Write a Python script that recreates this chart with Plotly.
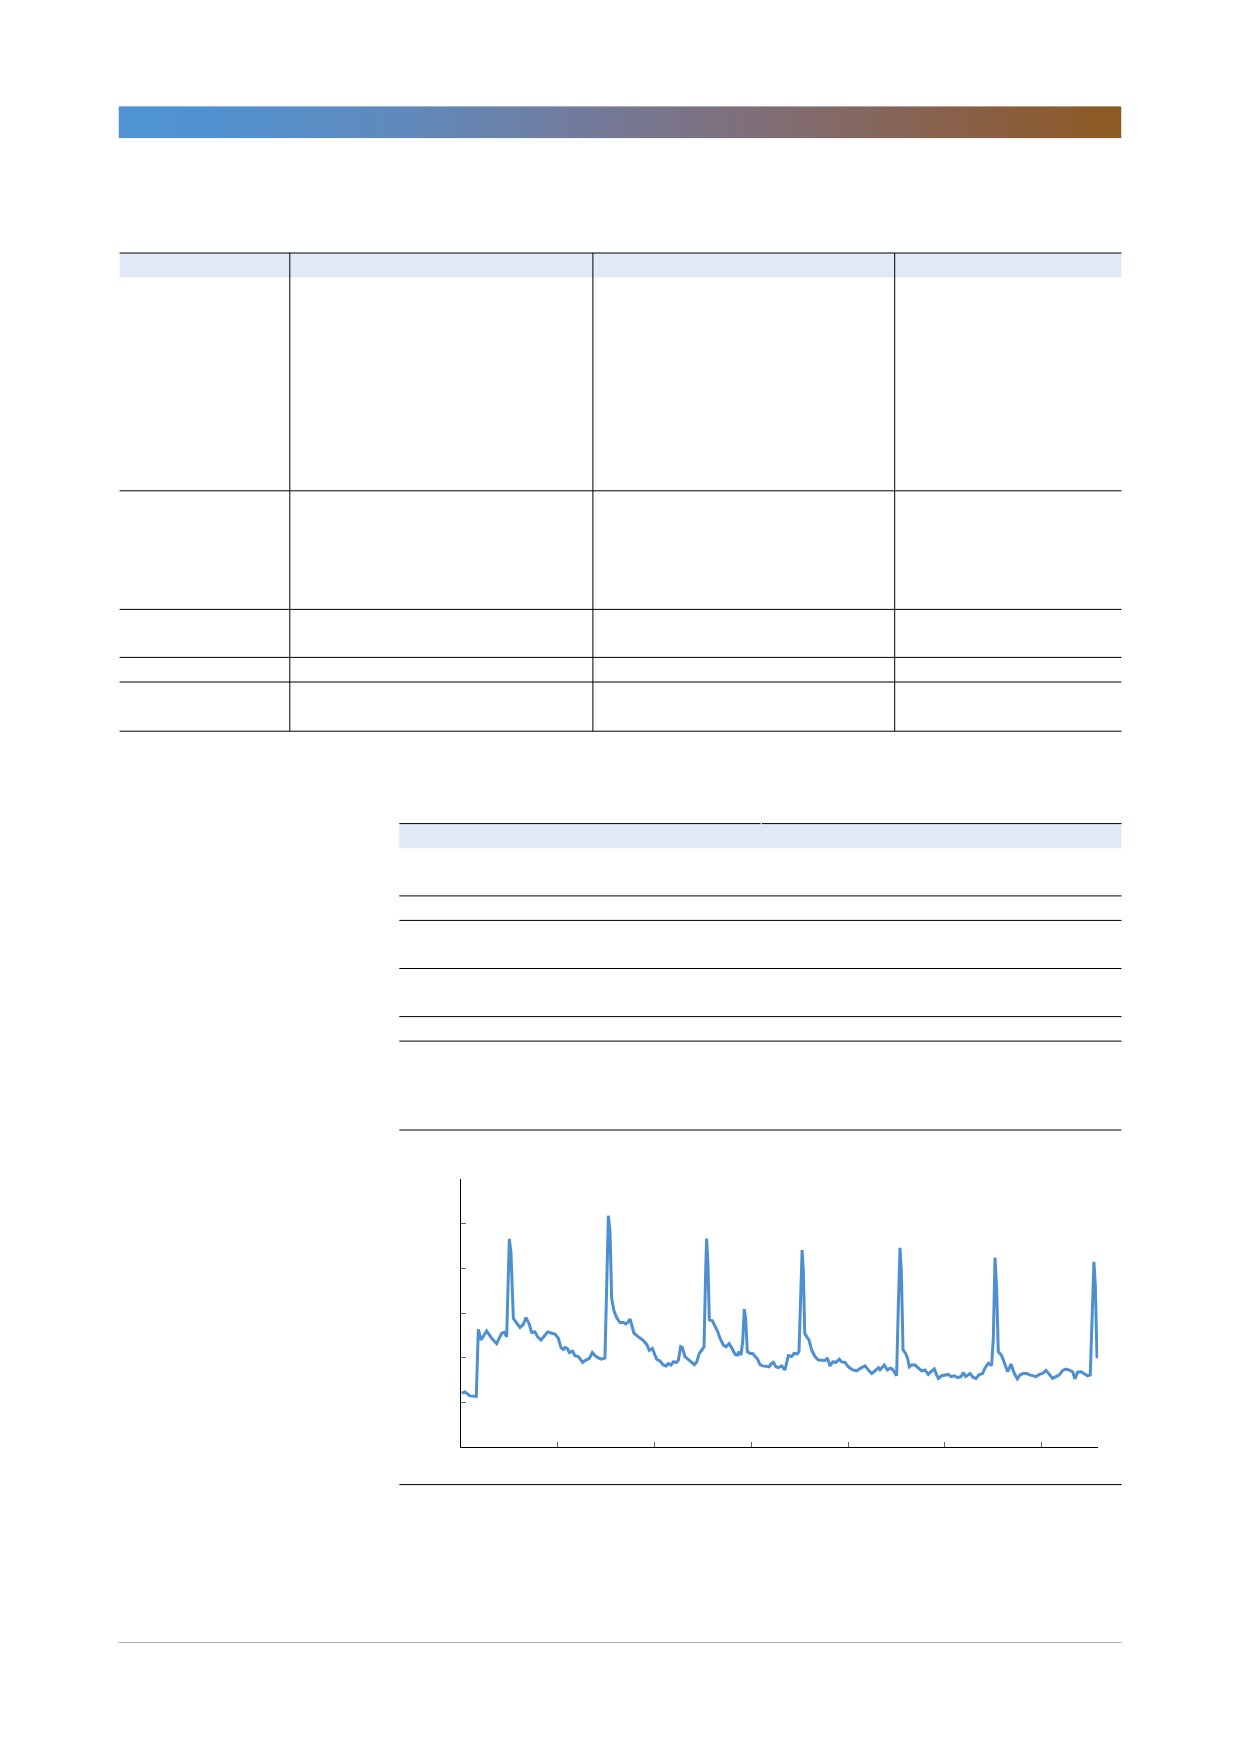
import plotly.graph_objects as go

# ---------------- data ----------------
x_vals = [
    0.010, 0.044, 0.096, 0.148, 0.161, 0.182, 0.210, 0.268, 0.320, 0.371, 0.423, 0.450, 0.475,
    0.502, 0.519, 0.544, 0.578, 0.612, 0.647, 0.674, 0.705, 0.733, 0.767, 0.795, 0.829, 0.864,
    0.898, 0.940, 0.974, 1.008, 1.036, 1.060, 1.077, 1.101, 1.122, 1.156, 1.180, 1.215, 1.232,
    1.260, 1.294, 1.329, 1.359, 1.387, 1.421, 1.456, 1.490, 1.507, 1.525, 1.542, 1.559, 1.583,
    1.610, 1.645, 1.680, 1.704, 1.725, 1.749, 1.766, 1.790, 1.835, 1.879, 1.921, 1.948, 1.979,
    2.000, 2.024, 2.058, 2.092, 2.120, 2.144, 2.172, 2.196, 2.230, 2.248, 2.272, 2.289, 2.316,
    2.350, 2.385, 2.413, 2.437, 2.464, 2.489, 2.513, 2.530, 2.540, 2.554, 2.568, 2.599, 2.626,
    2.654, 2.678, 2.712, 2.740, 2.771, 2.798, 2.833, 2.857, 2.874, 2.895, 2.912, 2.929, 2.943,
    2.960, 2.988, 3.015, 3.040, 3.067, 3.091, 3.119, 3.153, 3.184, 3.212, 3.229, 3.256, 3.280,
    3.315, 3.349, 3.384, 3.418, 3.443, 3.477, 3.494, 3.512, 3.526, 3.539, 3.553, 3.574, 3.597,
    3.625, 3.659, 3.694, 3.728, 3.763, 3.787, 3.814, 3.842, 3.876, 3.910, 3.935, 3.969, 4.004,
    4.048, 4.090, 4.131, 4.176, 4.210, 4.245, 4.279, 4.314, 4.330, 4.347, 4.375, 4.406, 4.434,
    4.458, 4.478, 4.502, 4.520, 4.537, 4.551, 4.568, 4.595, 4.616, 4.633, 4.657, 4.692, 4.726,
    4.760, 4.795, 4.829, 4.857, 4.891, 4.915, 4.933, 4.967, 5.009, 5.036, 5.064, 5.098, 5.133,
    5.167, 5.191, 5.215, 5.260, 5.294, 5.322, 5.353, 5.390, 5.414, 5.449, 5.483, 5.501, 5.518,
    5.535, 5.552, 5.587, 5.621, 5.649, 5.683, 5.718, 5.749, 5.776, 5.810, 5.845, 5.879, 5.914,
    5.941, 5.976, 6.010, 6.045, 6.079, 6.113, 6.148, 6.182, 6.217, 6.251, 6.292, 6.320, 6.344,
    6.371, 6.406, 6.437, 6.474, 6.502, 6.523, 6.540, 6.554, 6.572,
]
y_vals = [
    1.21, 1.24, 1.15, 1.13, 1.14, 2.64, 2.40, 2.60, 2.44, 2.32, 2.55, 2.57, 2.47,
    4.66, 4.37, 2.88, 2.79, 2.68, 2.75, 2.90, 2.77, 2.57, 2.58, 2.47, 2.40, 2.50,
    2.58, 2.55, 2.53, 2.44, 2.23, 2.19, 2.23, 2.21, 2.12, 2.15, 2.05, 2.03, 1.97,
    1.90, 1.95, 1.99, 2.12, 2.05, 2.00, 1.97, 2.00, 3.93, 5.18, 4.82, 3.33, 3.05,
    2.90, 2.79, 2.79, 2.76, 2.79, 2.87, 2.72, 2.55, 2.47, 2.40, 2.30, 2.17, 2.21,
    2.08, 1.97, 1.93, 1.84, 1.82, 1.87, 1.84, 1.91, 1.90, 1.95, 2.25, 2.23, 2.03,
    1.97, 1.91, 1.85, 1.91, 2.10, 2.17, 2.25, 3.93, 4.67, 4.08, 2.85, 2.83, 2.72,
    2.59, 2.44, 2.29, 2.25, 2.32, 2.23, 2.08, 2.06, 2.14, 2.06, 2.36, 3.09, 2.88,
    2.14, 2.10, 2.10, 2.03, 1.97, 1.85, 1.82, 1.81, 1.80, 1.88, 1.90, 1.80, 1.78,
    1.82, 1.73, 2.05, 2.03, 2.10, 2.09, 2.14, 3.70, 4.41, 3.93, 2.55, 2.47, 2.40,
    2.17, 2.03, 1.95, 1.95, 1.94, 2.00, 1.82, 1.91, 1.90, 1.97, 1.91, 1.90, 1.80,
    1.73, 1.71, 1.77, 1.82, 1.73, 1.65, 1.71, 1.78, 1.73, 1.78, 1.84, 1.73, 1.77,
    1.75, 1.69, 1.60, 3.18, 4.46, 3.93, 2.18, 2.10, 1.99, 1.80, 1.84, 1.84, 1.78,
    1.71, 1.73, 1.63, 1.69, 1.75, 1.62, 1.54, 1.60, 1.62, 1.63, 1.58, 1.60, 1.56,
    1.58, 1.67, 1.58, 1.65, 1.56, 1.54, 1.62, 1.65, 1.77, 1.88, 1.83, 2.44, 4.24,
    3.56, 2.14, 2.05, 1.84, 1.69, 1.86, 1.65, 1.53, 1.62, 1.65, 1.65, 1.62, 1.60,
    1.58, 1.63, 1.65, 1.72, 1.63, 1.54, 1.58, 1.62, 1.72, 1.75, 1.72, 1.69, 1.53,
    1.68, 1.69, 1.65, 1.60, 1.62, 3.18, 4.15, 3.63, 1.99,
]
gradient_steps = list(range(200))

# ---------------- page geometry (pixels) ----------------
W, H = 1240, 1754


def px(x):
    return x / W


def py(y):
    return 1 - y / H


LINE_BLUE = "#4e8fd0"
HEADER_FILL = "#e1e8f6"

fig = go.Figure()

# chart line
fig.add_trace(go.Scatter(
    x=x_vals, y=y_vals, mode="lines",
    line=dict(color=LINE_BLUE, width=3),
    hoverinfo="skip", showlegend=False,
    xaxis="x", yaxis="y",
))

# gradient banner
fig.add_trace(go.Heatmap(
    z=[gradient_steps], xaxis="x2", yaxis="y2",
    colorscale=[[0.0, "#4f93d3"], [0.08, "#5092d1"], [0.3, "#6289b9"],
                [0.5, "#767894"], [0.7, "#836a6a"], [0.85, "#895f46"], [1.0, "#8c5a22"]],
    showscale=False, hoverinfo="skip", zsmooth="best",
))

shapes = []


def hline(x0, x1, y, color="black", width=1):
    shapes.append(dict(type="line", xref="paper", yref="paper",
                       x0=px(x0), x1=px(x1), y0=py(y), y1=py(y),
                       line=dict(color=color, width=width)))


def vline(x, y0, y1, color="black", width=1):
    shapes.append(dict(type="line", xref="paper", yref="paper",
                       x0=px(x), x1=px(x), y0=py(y0), y1=py(y1),
                       line=dict(color=color, width=width)))


def rect(x0, x1, y0, y1, fill):
    shapes.append(dict(type="rect", xref="paper", yref="paper",
                       x0=px(x0), x1=px(x1), y0=py(y1), y1=py(y0),
                       fillcolor=fill, line=dict(width=0), layer="below"))


# ---- table 1 ----
T1_L, T1_R = 119.6, 1121.5
T1_TOP, T1_HDR = 253.0, 277.5
rect(T1_L, T1_R, T1_TOP, T1_HDR, HEADER_FILL)
hline(T1_L, T1_R, T1_TOP)
for yy in [490.8, 609.4, 657.4, 682.0, 731.2]:
    hline(T1_L, T1_R, yy)
for xx in [289.8, 592.9, 894.7]:
    vline(xx, T1_TOP, 731.2)

# ---- table 2 ----
T2_L, T2_R = 399.3, 1121.5
T2_TOP, T2_HDR = 823.6, 848.2
rect(T2_L, T2_R, T2_TOP, T2_HDR, HEADER_FILL)
hline(T2_L, 760.6, T2_TOP)
hline(761.8, T2_R, T2_TOP)
for yy in [895.9, 920.4, 968.5, 1016.6, 1041.1, 1130.0, 1484.6]:
    hline(T2_L, T2_R, yy)

# footer rule
hline(118.5, 1121.5, 1642.5, color="#a9a9b8", width=1)

# chart axes domain (pixels)
AX_L, AX_R = 460.7, 1098.3
AX_B, AX_T = 1447.3, 1179.0

fig.update_layout(
    width=W, height=H,
    margin=dict(l=0, r=0, t=0, b=0),
    paper_bgcolor="white", plot_bgcolor="rgba(0,0,0,0)",
    showlegend=False,
    shapes=shapes,
    xaxis=dict(domain=[px(AX_L), px(AX_R)], range=[0, 6.585], dtick=1, tick0=0,
               showline=True, linecolor="black", linewidth=1.3,
               ticks="inside", ticklen=5, tickcolor="#666", tickwidth=1.2,
               showticklabels=False, showgrid=False, zeroline=False, anchor="y"),
    yaxis=dict(domain=[py(AX_B), py(AX_T)], range=[0, 6], dtick=1, tick0=0,
               showline=True, linecolor="black", linewidth=1.3,
               ticks="inside", ticklen=5, tickcolor="#666", tickwidth=1.2,
               showticklabels=False, showgrid=False, zeroline=False, anchor="x"),
    xaxis2=dict(domain=[px(118.5), px(1121.5)], visible=False, anchor="y2",
                showgrid=False, zeroline=False),
    yaxis2=dict(domain=[py(138.6), py(106.2)], visible=False, anchor="x2",
                showgrid=False, zeroline=False),
)

fig.write_html("out.html")
